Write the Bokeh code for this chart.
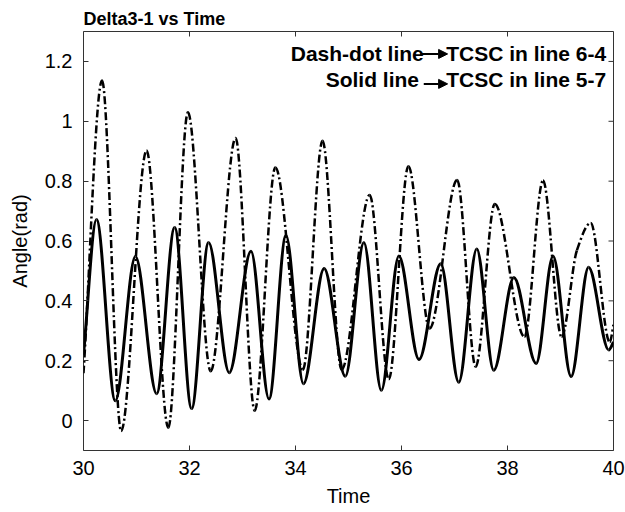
import numpy as np
from bokeh.plotting import figure
from bokeh.models import (ColumnDataSource, FixedTicker, Range1d,
                          Label, Arrow, NormalHead)
from bokeh.embed import file_html
from bokeh.resources import INLINE

# ---- data (extrema / key points) ----
time_solid = [30.0, 30.245, 30.60, 30.98, 31.38, 31.72, 32.04, 32.36, 32.75,
              33.16, 33.50, 33.82, 34.15, 34.54, 34.94, 35.29, 35.62, 35.95,
              36.33, 36.74, 37.08, 37.42, 37.74, 38.12, 38.54, 38.86, 39.20,
              39.53, 39.91, 40.0]
angle_solid = [0.22, 0.672, 0.066, 0.548, 0.09, 0.645, 0.04, 0.595, 0.16,
               0.566, 0.072, 0.618, 0.123, 0.508, 0.148, 0.595, 0.101, 0.55,
               0.204, 0.524, 0.128, 0.573, 0.168, 0.478, 0.191, 0.549, 0.147,
               0.512, 0.236, 0.262]

time_dashdot = [30.0, 30.35, 30.71, 31.19, 31.60, 31.97, 32.40, 32.87, 33.23,
                33.62, 34.14, 34.51, 34.87, 35.40, 35.76, 36.13, 36.53, 37.05,
                37.40, 37.76, 38.32, 38.67, 39.02, 39.31, 39.57, 39.93, 40.0]
angle_dashdot = [0.158, 1.136, -0.035, 0.902, -0.024, 1.03, 0.165, 0.944,
                 0.033, 0.846, 0.17, 0.935, 0.17, 0.754, 0.138, 0.85, 0.308,
                 0.804, 0.18, 0.724, 0.28, 0.802, 0.28, 0.569, 0.66, 0.262,
                 0.32]

x_ticks = [30, 32, 34, 36, 38, 40]
y_ticks = [0, 0.2, 0.4, 0.6, 0.8, 1, 1.2]
y_tick_labels = ["0", "0.2", "0.4", "0.6", "0.8", "1", "1.2"]
x_lim = (30, 40)
y_lim = (-0.1, 1.3)

title_text = "Delta3-1 vs Time"
x_label = "Time"
y_label = "Angle(rad)"
note1_left, note1_right = "Dash-dot line", "TCSC in line 6-4"
note2_left, note2_right = "Solid line", "TCSC in line 5-7"


def bezier_source(t, v):
    """Monotone cubic Hermite segments expressed as Bezier control points."""
    t = np.asarray(t, float)
    v = np.asarray(v, float)
    h = np.diff(t)
    d = np.diff(v) / h
    n = len(t)
    m = np.zeros(n)
    m[0] = d[0]
    m[-1] = d[-1]
    for k in range(1, n - 1):
        if d[k - 1] * d[k] <= 0:
            m[k] = 0.0
        else:
            w1 = 2 * h[k] + h[k - 1]
            w2 = h[k] + 2 * h[k - 1]
            m[k] = (w1 + w2) / (w1 / d[k - 1] + w2 / d[k])
    return ColumnDataSource(dict(
        x0=t[:-1], y0=v[:-1], x1=t[1:], y1=v[1:],
        cx0=t[:-1] + h / 3, cy0=v[:-1] + m[:-1] * h / 3,
        cx1=t[1:] - h / 3, cy1=v[1:] - m[1:] * h / 3,
    ))


FONT = "Liberation Sans"
AX = "#333333"

p = figure(frame_width=530, frame_height=419,
           x_range=Range1d(*x_lim), y_range=Range1d(*y_lim),
           output_backend="svg", toolbar_location=None,
           min_border_left=83, min_border_right=12,
           min_border_top=31, min_border_bottom=62)

p.title.text = title_text
p.title.text_font = FONT
p.title.text_font_size = "18px"
p.title.text_font_style = "bold"
p.title.text_color = "black"
p.title.standoff = 5
p.title.offset = 0

p.xgrid.visible = False
p.ygrid.visible = False
p.outline_line_color = AX
p.outline_line_width = 1
p.background_fill_color = "white"
p.border_fill_color = "white"

for ax in (p.xaxis[0], p.yaxis[0]):
    ax.axis_line_color = None
    ax.major_tick_line_color = AX
    ax.major_tick_in = 5
    ax.major_tick_out = 0
    ax.minor_tick_line_color = None
    ax.major_label_text_font = FONT
    ax.major_label_text_font_size = "20px"
    ax.major_label_text_color = "black"
    ax.axis_label_text_font = FONT
    ax.axis_label_text_font_size = "20px"
    ax.axis_label_text_font_style = "normal"
    ax.axis_label_text_color = "black"

p.xaxis.ticker = FixedTicker(ticks=x_ticks)
p.xaxis.major_label_standoff = 10
p.xaxis.axis_label = x_label
p.xaxis.axis_label_standoff = 7
p.yaxis.ticker = FixedTicker(ticks=y_ticks)
p.yaxis.major_label_overrides = {str(k): lab for k, lab in zip(y_ticks, y_tick_labels)}
p.yaxis.major_label_standoff = 11
p.yaxis.axis_label = y_label
p.yaxis.axis_label_standoff = 11

# inward ticks on top and right edges of the box (clipped to the frame)
p.scatter(x=x_ticks, y=[y_lim[1]] * len(x_ticks), marker="dash", angle=np.pi / 2,
          size=10, line_color=AX, line_width=1)
p.scatter(x=[x_lim[1]] * len(y_ticks), y=y_ticks, marker="dash",
          size=10, line_color=AX, line_width=1)

p.bezier(x0="x0", y0="y0", x1="x1", y1="y1", cx0="cx0", cy0="cy0",
         cx1="cx1", cy1="cy1", source=bezier_source(time_dashdot, angle_dashdot),
         line_color="black", line_width=2.5, line_dash="8 3 2 3")
p.bezier(x0="x0", y0="y0", x1="x1", y1="y1", cx0="cx0", cy0="cy0",
         cx1="cx1", cy1="cy1", source=bezier_source(time_solid, angle_solid),
         line_color="black", line_width=3)

# annotation text
for txt, x, y in [(note1_left, 36.42, 1.226),
                  (note1_right, 39.86, 1.226),
                  (note2_left, 36.33, 1.139),
                  (note2_right, 39.86, 1.139)]:
    p.add_layout(Label(x=x, y=y, text=txt, text_font=FONT, text_font_size="21px",
                       text_font_style="bold", text_align="right",
                       text_baseline="alphabetic", text_color="black"))
for x0, y in ((36.36, 1.225), (36.42, 1.125)):
    p.add_layout(Arrow(x_start=x0, y_start=y, x_end=36.87, y_end=y,
                       line_color="black", line_width=2,
                       end=NormalHead(size=9, fill_color="black", line_color="black")))

open("out.html", "w").write(file_html(p, INLINE))
